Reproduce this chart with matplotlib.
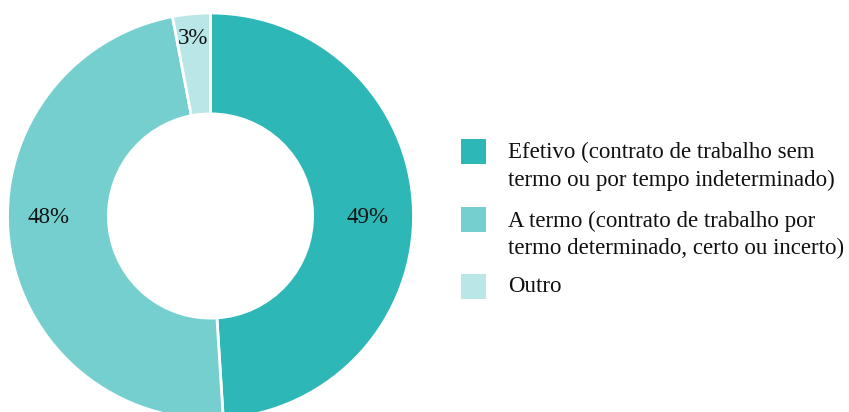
import numpy as np
import matplotlib.pyplot as plt
from matplotlib.patches import Rectangle

plt.rcParams['font.family'] = ['Liberation Serif', 'DejaVu Serif']

# data
labels = ["Efetivo (contrato de trabalho sem\ntermo ou por tempo indeterminado)",
          "A termo (contrato de trabalho por\ntermo determinado, certo ou incerto)",
          "Outro"]
values = [49, 48, 3]
colors = ["#2db7b7", "#76cfcf", "#b9e6e6"]

W, H = 849, 412
fig = plt.figure(figsize=(W / 100, H / 100), dpi=100)

# donut
ax = fig.add_axes([7.5 / W, -7 / H, 406 / W, 406 / H])
wedges, texts = ax.pie(values, colors=colors, startangle=90, counterclock=False,
                       radius=1.0, wedgeprops=dict(width=0.497, edgecolor='white', linewidth=2))
ax.set_xlim(-1, 1)
ax.set_ylim(-1, 1)
ax.set_aspect('equal')
ax.axis('off')

# percentage labels (placed like the original, in axis units)
label_pos = [(0.771, -0.005), (-0.796, -0.005), (-0.086, 0.875)]
for (x, y), v in zip(label_pos, values):
    ax.text(x, y, f"{v}%", ha='center', va='center', fontsize=16.5, color='#111111')

# legend
ys = [151, 219.5, 286]
for y, lab, c in zip(ys, labels, colors):
    fig.patches.append(Rectangle((461 / W, (H - y - 12.5) / H), 25 / W, 25 / H,
                                 transform=fig.transFigure, facecolor=c, edgecolor='none'))
    ty = y + 15.5 if "\n" in lab else y
    fig.text(508 / W, (H - ty) / H, lab, ha='left', va='center',
             fontsize=16.5, linespacing=1.39, color='#111111')

fig.savefig("out.png", dpi=100, facecolor='white')
